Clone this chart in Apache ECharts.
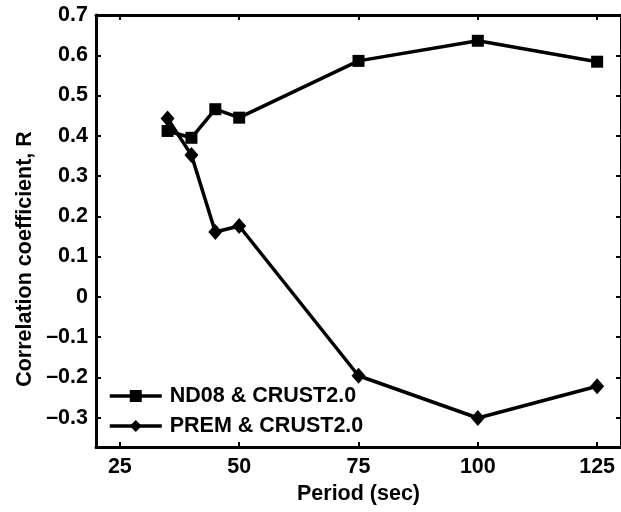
<!DOCTYPE html>
<html>
<head>
<meta charset="utf-8">
<script src="https://cdn.jsdelivr.net/npm/echarts@6/dist/echarts.min.js"></script>
<style>
html,body{margin:0;padding:0;background:#fff;}
#chart{width:621px;height:512px;}
</style>
</head>
<body>
<div id="chart"></div>
<script>
var periods = [35, 40, 45, 50, 75, 100, 125];
var nd08 = [0.412, 0.395, 0.466, 0.445, 0.586, 0.636, 0.584];
var prem = [0.443, 0.352, 0.161, 0.176, -0.196, -0.301, -0.222];
var xTicks = [25, 50, 75, 100, 125];
var yTicks = [-0.3, -0.2, -0.1, 0, 0.1, 0.2, 0.3, 0.4, 0.5, 0.6, 0.7];
var seriesNames = ['ND08 & CRUST2.0', 'PREM & CRUST2.0'];
var xName = 'Period (sec)';
var yName = 'Correlation coefficient, R';

var FONT = '"Liberation Sans", Arial, Helvetica, sans-serif';
var FS = 21.5;
function pairs(xs, ys){ return xs.map(function(x,i){ return [x, ys[i]]; }); }
function fmtY(v){
  if (Math.abs(v) < 1e-9) return '0';
  return (v < 0 ? '\u2013' : '') + Math.abs(v).toFixed(1);
}
var lineAx = {show:true, onZero:false, lineStyle:{color:'#000', width:3}};
var tickAx = {show:true, inside:true, length:5, lineStyle:{color:'#000', width:2}};
var lblStyle = {color:'#000', fontFamily:FONT, fontWeight:'bold', fontSize:FS};

var chart = echarts.init(document.getElementById('chart'), null, {renderer:'canvas'});
chart.setOption({
  animation:false,
  backgroundColor:'#fff',
  grid:{left:96, top:15, width:526, height:432, containLabel:false},
  xAxis:[{
    type:'value', min:20, max:130, position:'bottom',
    name:xName, nameLocation:'middle', nameGap:36,
    nameTextStyle:lblStyle,
    axisLine:lineAx,
    axisTick:Object.assign({customValues:xTicks}, tickAx),
    axisLabel:Object.assign({customValues:xTicks, margin:9}, lblStyle),
    splitLine:{show:false}
  },{
    type:'value', min:20, max:130, position:'top',
    axisLine:lineAx,
    axisTick:Object.assign({customValues:xTicks}, tickAx),
    axisLabel:{show:false},
    splitLine:{show:false}
  }],
  yAxis:[{
    type:'value', min:-0.373, max:0.7, position:'left',
    axisLine:lineAx,
    axisTick:Object.assign({customValues:yTicks}, tickAx),
    axisLabel:Object.assign({customValues:yTicks, margin:8, formatter:fmtY}, lblStyle),
    splitLine:{show:false}
  },{
    type:'value', min:-0.373, max:0.7, position:'right',
    axisLine:lineAx,
    axisTick:Object.assign({customValues:yTicks}, tickAx),
    axisLabel:{show:false},
    splitLine:{show:false}
  }],
  legend:{
    orient:'vertical', left:103, top:380,
    itemWidth:52, itemHeight:15, itemGap:8,
    lineStyle:{width:3.5, color:'#000'},
    textStyle:Object.assign({padding:[0,0,0,3]}, lblStyle),
    data:seriesNames
  },
  graphic:[{
    type:'text', x:25, y:259, rotation:Math.PI/2,
    style:{text:yName, fill:'#000', font:'bold ' + FS + 'px ' + FONT, align:'center', verticalAlign:'middle'}
  }],
  series:[{
    name:seriesNames[0], type:'line', data:pairs(periods, nd08),
    symbol:'rect', symbolSize:12, showAllSymbol:true,
    lineStyle:{color:'#000', width:3.5}, itemStyle:{color:'#000'}
  },{
    name:seriesNames[1], type:'line', data:pairs(periods, prem),
    symbol:'diamond', symbolSize:[14,16], showAllSymbol:true,
    lineStyle:{color:'#000', width:3.5}, itemStyle:{color:'#000'}
  }]
});
</script>
</body>
</html>
